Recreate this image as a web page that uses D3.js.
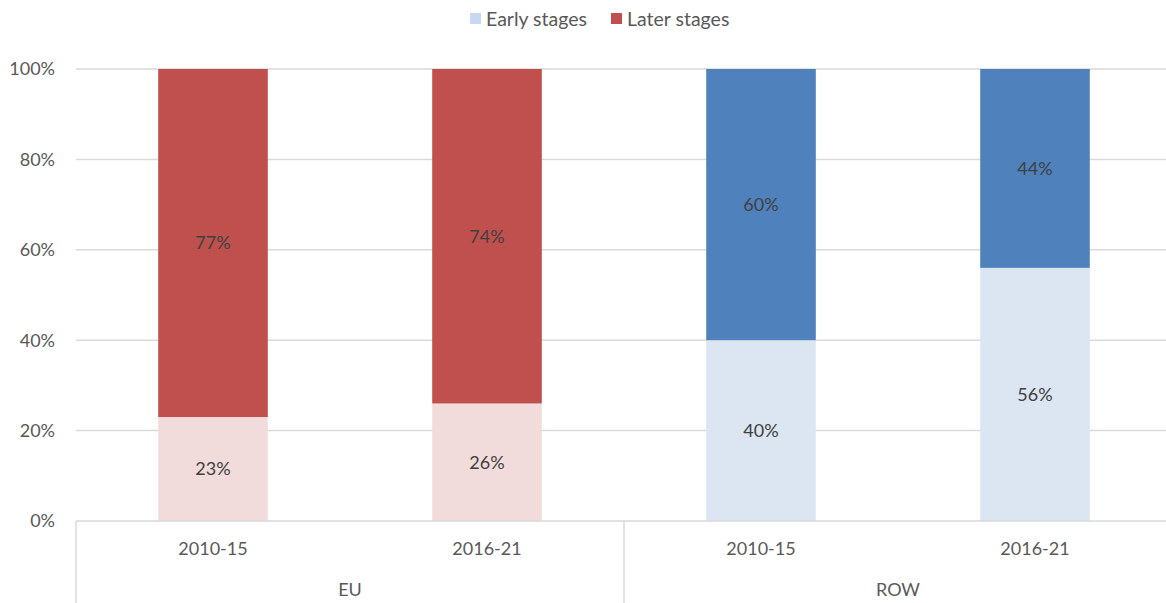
<!DOCTYPE html>
<html><head><meta charset="utf-8">
<script src="https://cdn.jsdelivr.net/npm/d3@7"></script>
<style>body{margin:0;background:#fff}svg{display:block}text{font-family:Lato,"Open Sans",sans-serif;fill:#595959}</style>
</head><body><svg id="c" width="1166" height="603"></svg>
<script>
const categories = ["2010-15","2016-21","2010-15","2016-21"];
const groups = ["EU","EU","ROW","ROW"];
const groupNames = ["EU","ROW"];
const earlyStages = [23,26,40,56];
const laterStages = [77,74,60,44];
const yTicks = [0,20,40,60,80,100];
const seriesNames = ["Early stages","Later stages"];

const colors = {
  EU: {early:"#F2DCDB", later:"#C0504D"},
  ROW:{early:"#DCE6F2", later:"#4F81BD"}
};
const legendColors = ["#C6D9F1","#C0504D"];

const svg = d3.select("#c");
const L=76, R=1172, T=69, B=521, W=1166;
const x = d3.scaleBand().domain(d3.range(categories.length)).range([L,R]).paddingInner(0.6).paddingOuter(0.3);
const y = d3.scaleLinear().domain([0,100]).range([B,T]);

// gridlines
svg.append("g").selectAll("line").data(yTicks.filter(d=>d>0)).join("line")
  .attr("x1",L).attr("x2",W).attr("y1",d=>y(d)).attr("y2",d=>y(d))
  .attr("stroke","#D9D9D9").attr("stroke-width",1.5);

// y axis labels
svg.append("g").selectAll("text").data(yTicks).join("text")
  .attr("x",55).attr("y",d=>y(d)).attr("dy","0.35em").attr("text-anchor","end")
  .attr("font-size",18).text(d=>d+"%");

// bars
const idx = d3.range(categories.length);
const g = svg.append("g");
g.selectAll("rect.e").data(idx).join("rect").attr("class","e")
  .attr("x",i=>x(i)).attr("width",x.bandwidth())
  .attr("y",i=>y(earlyStages[i])).attr("height",i=>B-y(earlyStages[i]))
  .attr("fill",i=>colors[groups[i]].early);
g.selectAll("rect.l").data(idx).join("rect").attr("class","l")
  .attr("x",i=>x(i)).attr("width",x.bandwidth())
  .attr("y",i=>y(100)).attr("height",i=>y(earlyStages[i])-y(100))
  .attr("fill",i=>colors[groups[i]].later);

// data labels
g.selectAll("text.e").data(idx).join("text").attr("class","e")
  .attr("x",i=>x(i)+x.bandwidth()/2).attr("y",i=>y(earlyStages[i]/2)).attr("dy","0.35em")
  .attr("text-anchor","middle").attr("font-size",18).style("fill","#404040")
  .text(i=>earlyStages[i]+"%");
g.selectAll("text.l").data(idx).join("text").attr("class","l")
  .attr("x",i=>x(i)+x.bandwidth()/2).attr("y",i=>y(earlyStages[i]+laterStages[i]/2)).attr("dy","0.35em")
  .attr("text-anchor","middle").attr("font-size",18).style("fill","#404040")
  .text(i=>laterStages[i]+"%");

// axis line
svg.append("line").attr("x1",L).attr("x2",W).attr("y1",B).attr("y2",B)
  .attr("stroke","#D9D9D9").attr("stroke-width",1.5);

// category labels
svg.append("g").selectAll("text").data(idx).join("text")
  .attr("x",i=>x(i)+x.bandwidth()/2).attr("y",549).attr("dy","0.35em")
  .attr("text-anchor","middle").attr("font-size",18).text(i=>categories[i]);

// group labels and separators
const step = x.step();
groupNames.forEach(gn=>{
  const members = idx.filter(i=>groups[i]===gn);
  const cx = (x(members[0])+x(members[members.length-1])+x.bandwidth())/2;
  svg.append("text").attr("x",cx).attr("y",590).attr("dy","0.35em")
    .attr("text-anchor","middle").attr("font-size",18).text(gn);
});
const seps = [L, L+2*step];
svg.append("g").selectAll("line").data(seps).join("line")
  .attr("x1",d=>d).attr("x2",d=>d).attr("y1",B).attr("y2",603)
  .attr("stroke","#D9D9D9").attr("stroke-width",1.5);

// legend
const leg = svg.append("g");
const legX = [470,611];
seriesNames.forEach((s,i)=>{
  leg.append("rect").attr("x",legX[i]).attr("y",13).attr("width",11).attr("height",11).attr("fill",legendColors[i]);
  leg.append("text").attr("x",legX[i]+16).attr("y",19).attr("dy","0.35em").attr("font-size",19.5).text(s);
});
</script></body></html>
